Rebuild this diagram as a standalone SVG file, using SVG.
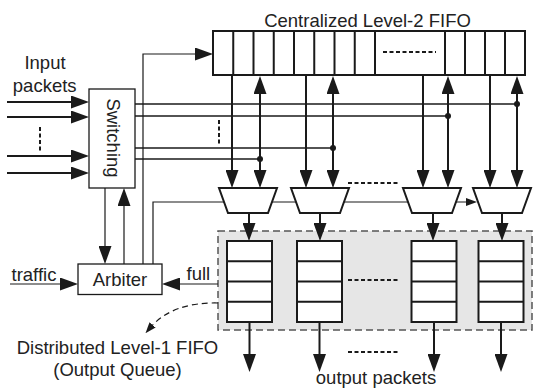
<svg xmlns="http://www.w3.org/2000/svg" width="533" height="388" viewBox="0 0 533 388">
<style>
text{font-family:"Liberation Sans",Arial,sans-serif;font-size:18.5px;fill:#222}
.box{fill:#fff;stroke:#1a1a1a;stroke-width:2}
.tbox{fill:#fff;stroke:#1a1a1a;stroke-width:1.3}
.div{stroke:#1a1a1a;stroke-width:2;fill:none}
.w{stroke:#1a1a1a;stroke-width:2;fill:none}
.h{stroke:#1a1a1a;stroke-width:1.7;fill:none}
.t{stroke:#1a1a1a;stroke-width:1.2;fill:none}
.dots{stroke:#1a1a1a;stroke-width:2;stroke-dasharray:4 2.5;fill:none}
.big{marker-end:url(#ah)}
.bi{marker-start:url(#ah);marker-end:url(#ah)}
.sm{marker-end:url(#as)}
</style>
<defs>
<marker id="ah" viewBox="0 0 18 13" refX="8" refY="6.5" markerWidth="18" markerHeight="13" markerUnits="userSpaceOnUse" orient="auto-start-reverse"><path d="M0,0 L18,6.5 L0,13 z" fill="#1a1a1a"/></marker>
<marker id="as" viewBox="0 0 11 8" refX="4" refY="4" markerWidth="11" markerHeight="8" markerUnits="userSpaceOnUse" orient="auto"><path d="M0,0 L11,4 L0,8 z" fill="#1a1a1a"/></marker>
</defs>
<rect width="533" height="388" fill="#fff"/>

<g id="l1-region">
<rect x="218" y="231" width="314" height="99" fill="#e6e6e6" stroke="#555" stroke-width="1.5" stroke-dasharray="7 4"/>
</g>

<g id="connectors">
<path class="w big" d="M7,102 H79"/>
<path class="w big" d="M7,117 H79"/>
<path class="w big" d="M7,156 H79"/>
<path class="w big" d="M7,173 H79"/>
<path class="dots" d="M40,127 V153"/>
<path class="h" d="M135,104 H517"/>
<path class="h" d="M135,116 H448"/>
<path class="h" d="M135,148 H333"/>
<path class="h" d="M135,159 H260"/>
<path class="dots" d="M219,120 V146"/>
<circle cx="517" cy="104" r="3" fill="#1a1a1a"/>
<circle cx="448" cy="116" r="3" fill="#1a1a1a"/>
<circle cx="333" cy="148" r="3" fill="#1a1a1a"/>
<circle cx="260" cy="159" r="3" fill="#1a1a1a"/>
<path class="w big" d="M232,76 V178"/>
<path class="w bi" d="M260,86 V178"/>
<path class="w big" d="M306,76 V178"/>
<path class="w bi" d="M333,86 V178"/>
<path class="w big" d="M423,76 V178"/>
<path class="w bi" d="M448,86 V178"/>
<path class="w big" d="M490,76 V178"/>
<path class="w bi" d="M517,86 V178"/>
<path class="dots" d="M348,183 H400"/>
<path class="w big" d="M249,213 V231"/>
<path class="w big" d="M320,213 V231"/>
<path class="w big" d="M433,213 V231"/>
<path class="w big" d="M502,213 V231"/>
<path class="w big" d="M249.5,322 V362"/>
<path class="w big" d="M319.5,322 V362"/>
<path class="w big" d="M434,322 V362"/>
<path class="w big" d="M501,322 V362"/>
<path class="dots" d="M348,352 H400"/>
<path class="dots" d="M348,280 H400"/>
<path class="t big" d="M105,188 V254"/>
<path class="t big" d="M124,264 V198"/>
<path class="t big" d="M143,264 V54 H203"/>
<path class="t sm" d="M153,264 V202 H470"/>
<path class="t big" d="M10,284 H68"/>
<path class="t big" d="M218,284 H172"/>
<path class="t sm" d="M218,303 Q172,302 150,328" stroke-dasharray="6 4"/>
</g>

<g id="fifo2">
<rect class="box" x="213" y="31" width="312" height="44"/>
<path class="div" d="M233.25,31V75M253.5,31V75M273.75,31V75M294,31V75M314.25,31V75M334.5,31V75M354.75,31V75M375,31V75M445,31V75M465,31V75M485,31V75M505,31V75"/>
<path class="dots" d="M383,52 H436"/>
<text x="367.5" y="26.5" text-anchor="middle">Centralized Level-2 FIFO</text>
</g>

<g id="switching">
<rect class="tbox" x="89" y="89" width="46" height="99"/>
<text transform="translate(107,138) rotate(90)" text-anchor="middle">Switching</text>
</g>

<g id="arbiter">
<rect class="tbox" x="78" y="264" width="84" height="30.5"/>
<text x="120" y="285.7" text-anchor="middle">Arbiter</text>
</g>

<g id="mux1"><polygon class="box" points="219,188 277,188 268,213 228,213"/></g>
<g id="mux2"><polygon class="box" points="291,188 349,188 340,213 300,213"/></g>
<g id="mux3"><polygon class="box" points="403,188 461,188 452,213 412,213"/></g>
<g id="mux4"><polygon class="box" points="473,188 531,188 522,213 482,213"/></g>

<g id="queue1"><rect class="box" x="227" y="241" width="45" height="81"/><path class="div" d="M227,261.25H272M227,281.5H272M227,301.75H272"/></g>
<g id="queue2"><rect class="box" x="297" y="241" width="45" height="81"/><path class="div" d="M297,261.25H342M297,281.5H342M297,301.75H342"/></g>
<g id="queue3"><rect class="box" x="411.5" y="241" width="45" height="81"/><path class="div" d="M411.5,261.25H456.5M411.5,281.5H456.5M411.5,301.75H456.5"/></g>
<g id="queue4"><rect class="box" x="478.5" y="241" width="45" height="81"/><path class="div" d="M478.5,261.25H523.5M478.5,281.5H523.5M478.5,301.75H523.5"/></g>

<g id="labels">
<text x="45" y="69" text-anchor="middle">Input</text>
<text x="44.7" y="92" text-anchor="middle">packets</text>
<text x="11.5" y="281">traffic</text>
<text x="186.5" y="280">full</text>
<text x="117.5" y="354" text-anchor="middle">Distributed Level-1 FIFO</text>
<text x="117.5" y="375.5" text-anchor="middle">(Output Queue)</text>
<text x="376" y="383.5" text-anchor="middle">output packets</text>
</g>
</svg>
